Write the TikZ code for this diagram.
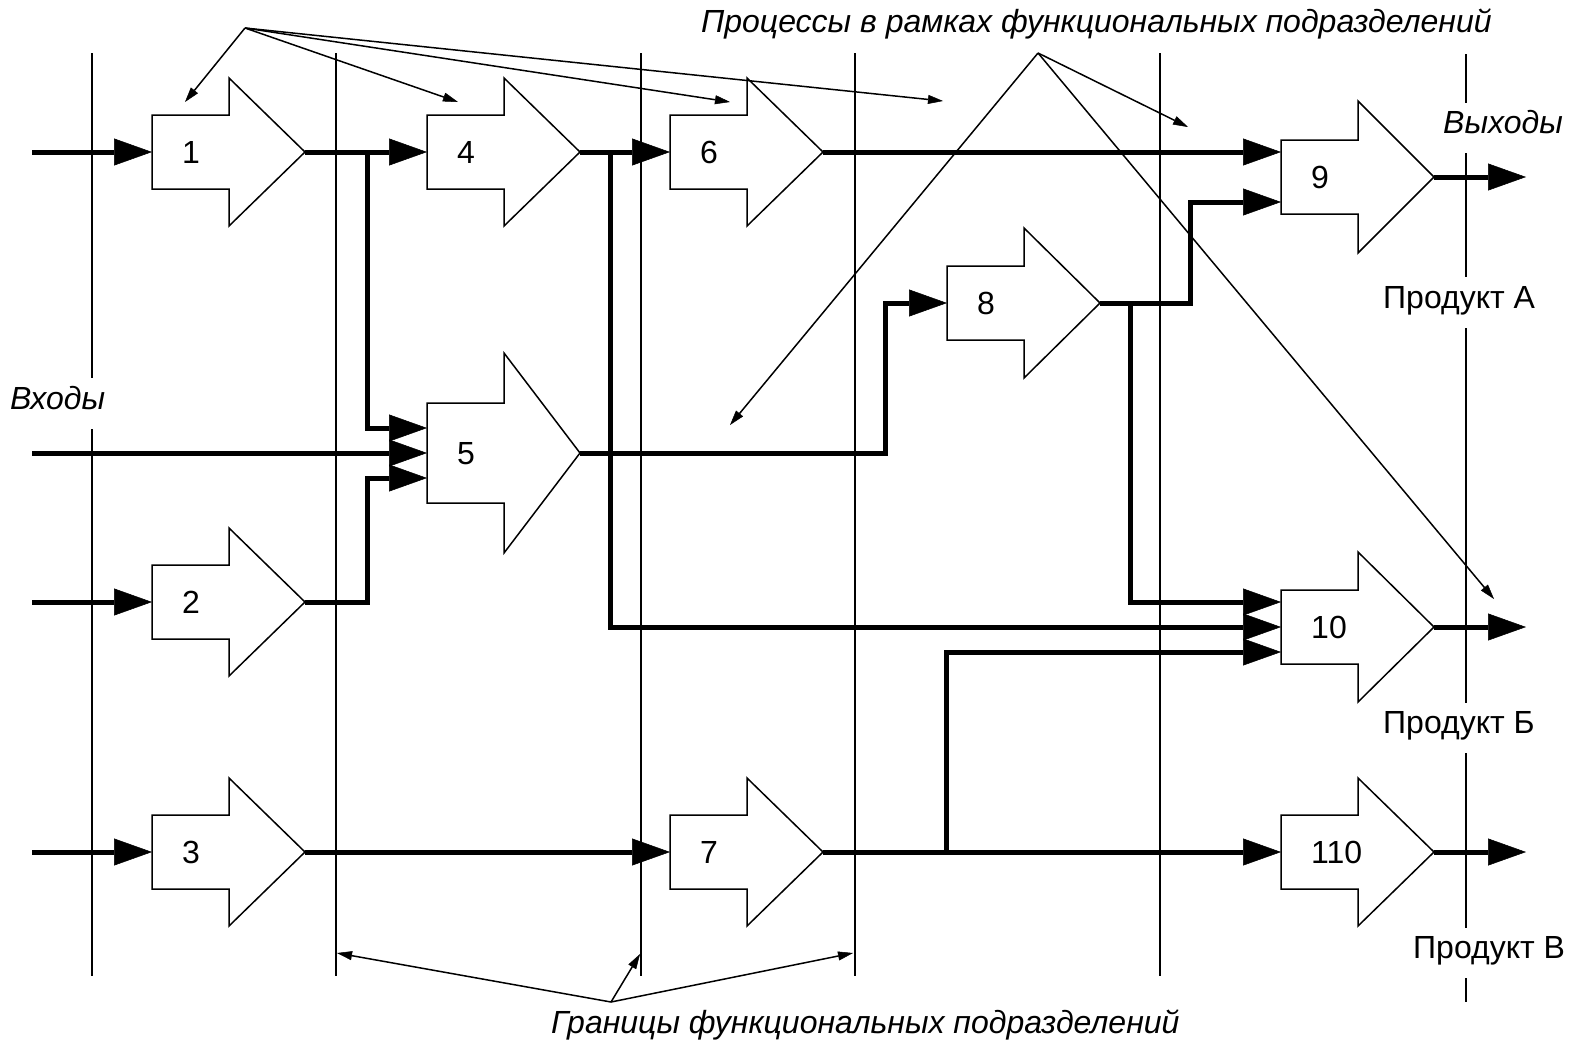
\documentclass[tikz,border=0pt]{standalone}
\usepackage{fontspec}
\setmainfont{Liberation Sans}
\usetikzlibrary{arrows.meta}
\newcommand\procblk[6]{% name, left x, centre y, half body, half head, label
  \draw[procshape] (#2,#3-#4) -- (#2+77,#3-#4) -- (#2+77,#3-#5) -- (#2+153,#3)
    -- (#2+77,#3+#5) -- (#2+77,#3+#4) -- (#2,#3+#4) -- cycle;
  \node[numlbl] (#1) at (#2+30,#3+11) {#6};
  \coordinate (#1w) at (#2,#3);
  \coordinate (#1e) at (#2+153,#3);
}
\begin{document}
\begin{tikzpicture}[x=1pt,y=-1pt,
  divline/.style={line width=1.5pt},
  procshape/.style={draw=black,fill=white,line width=1.5pt,line join=miter},
  numlbl/.style={anchor=base west,inner sep=0pt,font=\fontsize{32}{38}\selectfont},
  prodlbl/.style={anchor=base west,inner sep=0pt,font=\fontsize{32}{38}\selectfont},
  capt/.style={anchor=base west,inner sep=0pt,font=\fontsize{32}{38}\selectfont\itshape},
  flow/.style={line width=5pt,-{Triangle[length=38pt,width=27pt,line width=0.5pt]}},
  annot/.style={line width=1.5pt,-{Triangle[length=15pt,width=9pt,line width=0.5pt]}}]
\useasboundingbox (0,0) rectangle (1570,1042);
\fill[white] (0,0) rectangle (1570,1042);

% division boundaries
\draw[divline] (92,53) -- (92,378) (92,429) -- (92,976);
\draw[divline] (336,53) -- (336,976);
\draw[divline] (641,53) -- (641,976);
\draw[divline] (855,53) -- (855,976);
\draw[divline] (1160,53) -- (1160,976);
\draw[divline] (1466,54) -- (1466,103) (1466,153) -- (1466,277)
  (1466,328) -- (1466,703) (1466,753) -- (1466,928) (1466,978) -- (1466,1002);

% blocks
\procblk{b1}{152}{152}{37}{74}{1}
\procblk{b4}{427}{152}{37}{74}{4}
\procblk{b6}{670}{152}{37}{74}{6}
\procblk{b5}{427}{453}{50}{100}{5}
\procblk{b2}{152}{602}{37}{74}{2}
\procblk{b3}{152}{852}{37}{74}{3}
\procblk{b7}{670}{852}{37}{74}{7}
\procblk{b8}{947}{303}{37}{75}{8}
\procblk{b9}{1281}{177}{37}{76}{9}
\procblk{b10}{1281}{627}{37}{75}{10}
\procblk{b110}{1281}{852}{37}{74}{110}

% input / output / junction points
\coordinate (s1) at (32,152);
\coordinate (s5) at (32,453);
\coordinate (s2) at (32,602);
\coordinate (s3) at (32,852);
\coordinate (b5in1) at (427,428);
\coordinate (b5in3) at (427,478);
\coordinate (b9in1) at (1281,152);
\coordinate (b9in2) at (1281,202);
\coordinate (b10in1) at (1281,602);
\coordinate (b10in2) at (1281,627);
\coordinate (b10in3) at (1281,652);
\coordinate (j1) at (367,152);
\coordinate (j2) at (367,478);
\coordinate (j3) at (610,152);
\coordinate (j4) at (885,303);
\coordinate (j5) at (1190,202);
\coordinate (j6) at (1130,303);
\coordinate (j7) at (946,852);
\coordinate (o9) at (1526,177);
\coordinate (o10) at (1526,627);
\coordinate (o110) at (1526,852);

% flows
\draw[flow] (s1) -- (b1w);
\draw[flow] (s5) -- (b5w);
\draw[flow] (s2) -- (b2w);
\draw[flow] (s3) -- (b3w);
\draw[flow] (b1e) -- (b4w);
\draw[flow] (j1) |- (b5in1);
\draw[flow] (b2e) -| (j2) -- (b5in3);
\draw[flow] (b4e) -- (b6w);
\draw[flow] (j3) |- (b10in2);
\draw[flow] (b6e) -- (b9in1);
\draw[flow] (b5e) -| (j4) -- (b8w);
\draw[flow] (b8e) -| (j5) -- (b9in2);
\draw[flow] (j6) |- (b10in1);
\draw[flow] (b3e) -- (b7w);
\draw[flow] (b7e) -- (b110w);
\draw[flow] (j7) |- (b10in3);
\draw[flow] (b9e) -- (o9);
\draw[flow] (b10e) -- (o10);
\draw[flow] (b110e) -- (o110);

% texts
\node[capt] (tproc) at (701,32) {Процессы в рамках функциональных подразделений};
\node[capt] (tin) at (10,409) {Входы};
\node[capt] (tout) at (1443,133) {Выходы};
\node[capt] (tbound) at (551,1033) {Границы функциональных подразделений};
\node[prodlbl] (pa) at (1383,308) {Продукт А};
\node[prodlbl] (pb) at (1383,733) {Продукт Б};
\node[prodlbl] (pc) at (1413,958) {Продукт В};

% annotation arrows
\coordinate (p1) at (245,28);
\coordinate (p2) at (1038,53);
\coordinate (p3) at (611,1002);
\coordinate (a1) at (185,102);
\coordinate (a2) at (458,102);
\coordinate (a3) at (730,102);
\coordinate (a4) at (943,101);
\coordinate (a5) at (730,425);
\coordinate (a6) at (1188,127);
\coordinate (a7) at (1494,599);
\coordinate (a8) at (337,953);
\coordinate (a9) at (640,954);
\coordinate (a10) at (853,953);
\draw[annot] (p1) -- (a1);
\draw[annot] (p1) -- (a2);
\draw[annot] (p1) -- (a3);
\draw[annot] (p1) -- (a4);
\draw[annot] (p2) -- (a5);
\draw[annot] (p2) -- (a6);
\draw[annot] (p2) -- (a7);
\draw[annot] (p3) -- (a8);
\draw[annot] (p3) -- (a9);
\draw[annot] (p3) -- (a10);
\end{tikzpicture}
\end{document}
